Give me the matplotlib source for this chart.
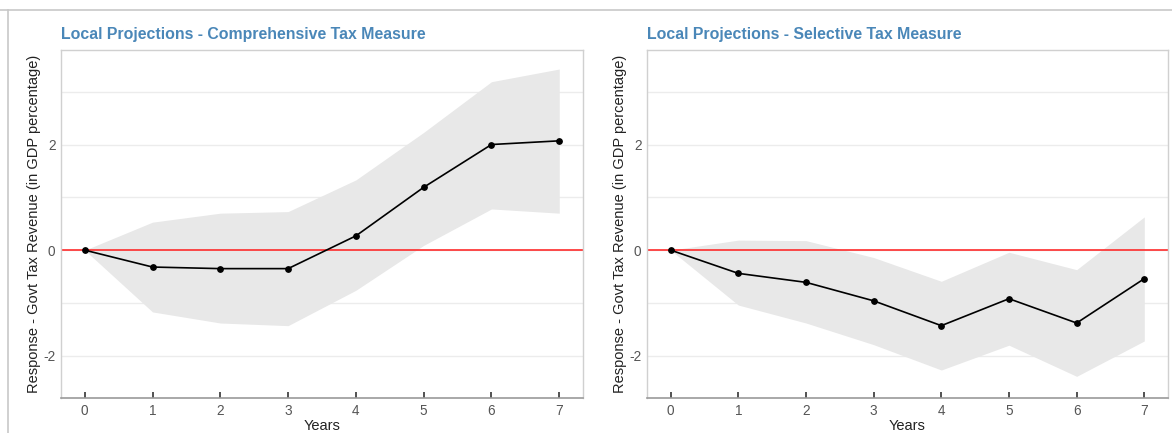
import matplotlib
matplotlib.use("Agg")
import matplotlib.pyplot as plt
from matplotlib.lines import Line2D
import numpy as np

plt.rcParams["font.family"] = ["Liberation Sans", "DejaVu Sans"]

years = [0, 1, 2, 3, 4, 5, 6, 7]

# comprehensive tax measure
comp_irf = [0.0, -0.32, -0.35, -0.35, 0.27, 1.19, 2.00, 2.07]
comp_hi = [0.0, 0.53, 0.70, 0.73, 1.33, 2.23, 3.19, 3.43]
comp_lo = [0.0, -1.17, -1.38, -1.43, -0.76, 0.09, 0.78, 0.70]

# selective tax measure
sel_irf = [0.0, -0.44, -0.61, -0.96, -1.43, -0.92, -1.38, -0.54]
sel_hi = [0.0, 0.19, 0.18, -0.14, -0.59, -0.04, -0.37, 0.63]
sel_lo = [0.0, -1.04, -1.38, -1.79, -2.27, -1.80, -2.39, -1.72]

titles = ["Local Projections - Comprehensive Tax Measure",
          "Local Projections - Selective Tax Measure"]
ylab = "Response - Govt Tax Revenue (in GDP percentage)"

W, H = 1172, 433
fig = plt.figure(figsize=(W / 100, H / 100), dpi=100)

boxes = [(61, 583), (647, 1168)]
top, bot = 50, 398
panels = [(comp_irf, comp_lo, comp_hi), (sel_irf, sel_lo, sel_hi)]

for (x0, x1), (irf, lo, hi), ttl in zip(boxes, panels, titles):
    ax = fig.add_axes([x0 / W, 1 - bot / H, (x1 - x0) / W, (bot - top) / H])
    ax.fill_between(years, lo, hi, color="#e8e8e8", linewidth=0, zorder=1)
    ax.axhline(0, color="#ff1a1a", linewidth=1.1, zorder=2)
    ax.plot(years, irf, color="black", linewidth=1.2, zorder=3)
    ax.scatter(years, irf, color="black", s=15, zorder=4)

    ax.set_xlim(-0.35, 7.35)
    ax.set_ylim(-2.8, 3.79)
    ax.set_xticks(years)
    ax.set_yticks([-2, 0, 2])
    ax.set_yticklabels(["-2", "0", "2"])
    ax.set_yticks([-1, 1, 3], minor=True)
    ax.grid(True, which="both", axis="y", color="#ececec", linewidth=1.0, zorder=0)
    ax.set_axisbelow(True)
    ax.tick_params(axis="y", which="both", length=0, labelsize=9.8, labelcolor="#555555", pad=4)
    ax.tick_params(axis="x", direction="in", length=4, width=1.2, color="#333333",
                   labelsize=9.8, labelcolor="#555555", pad=4)

    for s in ["top", "left", "right"]:
        ax.spines[s].set_color("#d0d0d0")
        ax.spines[s].set_linewidth(1.0)
    ax.spines["bottom"].set_color("#9a9a9a")
    ax.spines["bottom"].set_linewidth(1.2)

    ax.set_xlabel("Years", fontsize=10.5, color="#222222", labelpad=1)
    ax.set_ylabel(ylab, fontsize=10.5, color="#222222", labelpad=2)
    ax.set_title(ttl, loc="left", fontsize=11.4, fontweight="bold", color="#4a87b8", pad=8)

# outer frame lines
fig.add_artist(Line2D([0, 1], [1 - 9.5 / H, 1 - 9.5 / H], transform=fig.transFigure,
                      color="#c8c8c8", linewidth=1.2))
fig.add_artist(Line2D([7.5 / W, 7.5 / W], [0, 1 - 9.5 / H], transform=fig.transFigure,
                      color="#c8c8c8", linewidth=1.2))

fig.savefig("out.png", dpi=100, facecolor="white")
